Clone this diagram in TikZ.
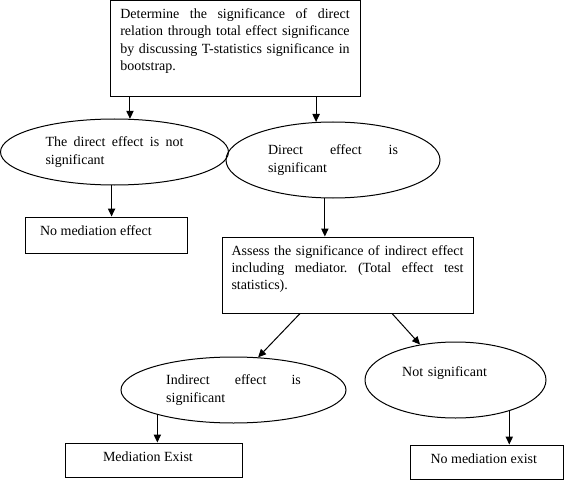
\documentclass[tikz,border=0pt]{standalone}
\usepackage{fontspec}
\setmainfont{Liberation Serif}
\usetikzlibrary{shapes.geometric,arrows.meta}

\hyphenpenalty=10000
\exhyphenpenalty=10000
\tolerance=10000
\frenchspacing

\tikzset{every picture/.style={line width=0.75pt}}
\tikzset{
	every node/.style={font=\fontsize{10.5}{13}\selectfont},
	flowbox/.style={draw, rectangle, inner sep=0pt},
	flowell/.style={draw, ellipse, inner sep=0pt, align=justify},
	flowarr/.style={-{Triangle[length=6pt,width=5.5pt]}}
}

\begin{document}
\begin{tikzpicture}[x=0.75pt,y=0.75pt,yscale=-1,xscale=1]
	\useasboundingbox (0,0) rectangle (567,481);

	%Shape: Rectangle [id:top]
	\node [flowbox, minimum width=187.5pt, minimum height=72pt] (top) at (235,49) {\parbox[c][60.5pt][t]{172pt}{Determine the significance of direct relation through total effect significance by discussing T-statistics significance in bootstrap.}};
	%Shape: Ellipse [id:direct]
	\node [flowell, minimum width=171pt, minimum height=49.5pt, text width=103.5pt] (direct) at (114.5,152) {The direct effect is not significant};
	%Shape: Ellipse [id:directSig]
	\node [flowell, minimum width=160.5pt, minimum height=57pt, text width=97.5pt] (directSig) at (333,160) {Direct effect is significant};
	%Shape: Rectangle [id:noEffect]
	\node [flowbox, minimum width=121.5pt, minimum height=27pt] (noEffect) at (106,235) {\parbox[c][14.4pt][t]{99pt}{No mediation effect}};
	%Shape: Rectangle [id:assess]
	\node [flowbox, minimum width=188.25pt, minimum height=57pt] (assess) at (347.5,275) {\parbox[c][44.4pt][t]{174pt}{Assess the significance of indirect effect including mediator. (Total effect test statistics).}};
	%Shape: Ellipse [id:indirect]
	\node [flowell, minimum width=168.75pt, minimum height=49.5pt, text width=101pt] (indirect) at (233.5,390) {Indirect effect is significant};
	%Shape: Ellipse [id:notSig]
	\node [flowell, align=left, minimum width=135.75pt, minimum height=57pt, text width=80pt] (notSig) at (455.5,380) {Not significant\\~};
	%Shape: Rectangle [id:medExist]
	\node [flowbox, minimum width=132.75pt, minimum height=25.5pt] (medExist) at (153.5,460) {\parbox[c][12.9pt][t]{75.75pt}{Mediation Exist}};
	%Shape: Rectangle [id:noMedExist]
	\node [flowbox, minimum width=114.75pt, minimum height=25.5pt] (noMedExist) at (486.5,462) {\parbox[c][12.9pt][t]{84pt}{No mediation exist}};

	%Straight Lines
	\draw [flowarr] (top.south -| direct.65) -- (direct.65);
	\draw [flowarr] (top.south -| directSig.114) -- (directSig.114);
	\draw [flowarr] (direct.265) -- (direct.265 |- noEffect.north);
	\draw [flowarr] (directSig.258) -- (directSig.258 |- assess.north);
	\draw [flowarr] ([xshift=-35.6pt]assess.south) -- (indirect.53);
	\draw [flowarr] ([xshift=33.4pt]assess.south) -- (notSig.135);
	\draw [flowarr] (indirect.198) -- (indirect.198 |- medExist.north);
	\draw [flowarr] (notSig.330) -- (notSig.330 |- noMedExist.north);

\end{tikzpicture}
\end{document}
